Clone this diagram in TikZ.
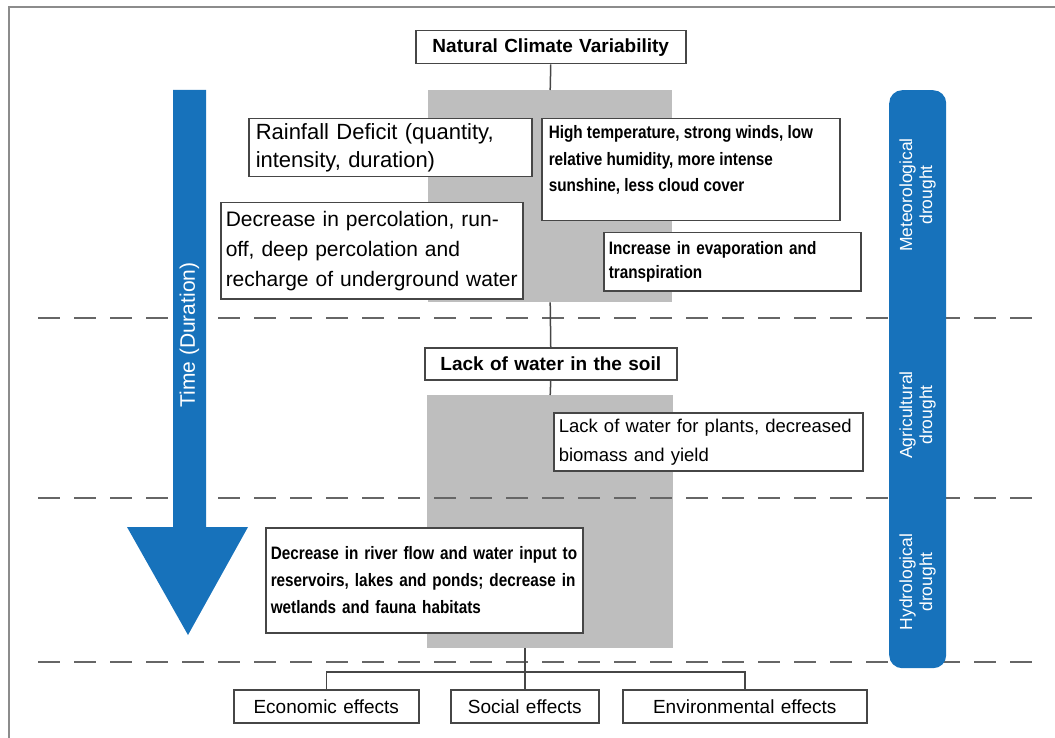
\documentclass[tikz,border=0pt]{standalone}
\usepackage{fontspec}
\setmainfont{Liberation Sans}
\newfontfamily\narrowfont[FakeStretch=0.85]{Liberation Sans}
\usepackage{tikz}
\usetikzlibrary{positioning}
\definecolor{timeblue}{RGB}{23,114,187}
\definecolor{bandgrey}{RGB}{190,190,190}
\definecolor{boxline}{RGB}{70,70,70}
\tikzset{
  txtbox/.style={ draw=boxline, fill=white, line width=1.5pt, anchor=north west, align=left, inner ysep=0pt }
}
\tikzset{
  band/.style={ fill=bandgrey, anchor=north west, inner sep=0pt }
}
\tikzset{
  sepline/.style={ draw=black!60, line width=2pt, dash pattern=on 22pt off 14pt }
}
\tikzset{
  effect/.style={ txtbox, align=center, font=\fontsize{19}{22}\selectfont, minimum height=33pt }
}
\tikzset{
  phase/.style={ rotate=90, text=white, align=center, font=\fontsize{17.5}{20}\selectfont }
}
\tikzset{
  narrowbold/.style={ font=\fontsize{18}{26.5}\narrowfont\bfseries }
}

\begin{document}
\begin{tikzpicture}[x=1pt, y=-1pt]
        \useasboundingbox (0,0) rectangle (1055,738);
        \draw[black!45, line width=2pt] (9,738) -- (9,7) -- (1055,7);
        \node[band, minimum width=244pt, minimum height=212pt] (band1) at (428,90) {};
        \node[band, minimum width=246pt, minimum height=253pt] (band2) at (427,395) {};
        \draw[sepline] (38,318) -- (1042,318);
        \draw[sepline] (38,498) -- (1042,498);
        \draw[sepline] (38,662) -- (1042,662);
        \node[txtbox, align=center, text width=260pt, inner xsep=5pt, minimum height=33pt, font=\fontsize{19}{23}\selectfont\bfseries] (ncv) at (415,30) {Natural Climate Variability};
        \node[txtbox, text width=269pt, inner xsep=7pt, minimum height=58pt, font=\fontsize{22}{28}\selectfont] (rain) at (248,118) {Rainfall Deficit (quantity,\\intensity, duration)};
        \node[txtbox, narrowbold, inner sep=7pt] (heat) at (541,118) {\parbox[t][88pt][t]{284pt}{High temperature, strong winds, low\\relative humidity, more intense\\sunshine, less cloud cover}};
        \node[txtbox, text width=292pt, inner xsep=5pt, minimum height=96pt, font=\fontsize{21}{30}\selectfont] (perc) at (220,202) {Decrease in percolation, run-\\off, deep percolation and\\recharge of underground water};
        \node[txtbox, narrowbold, text width=247pt, inner xsep=5pt, minimum height=58pt, font=\fontsize{18}{24}\narrowfont\bfseries] (evap) at (603,232) {Increase in evaporation and\\transpiration};
        \node[txtbox, align=center, text width=242pt, inner xsep=5pt, minimum height=32pt, font=\fontsize{19}{23}\selectfont\bfseries] (lack) at (424,347) {Lack of water in the soil};
        \node[txtbox, text width=299pt, inner xsep=5pt, minimum height=58pt, font=\fontsize{18.5}{29}\selectfont] (plants) at (553,412) {Lack of water for plants, decreased\\biomass and yield};
        \node[txtbox, narrowbold, text width=307pt, inner xsep=5pt, minimum height=105pt, font=\fontsize{18}{27}\narrowfont\bfseries] (river) at (265,527) {Decrease in river flow and water input to\\reservoirs, lakes and ponds; decrease in\\wetlands and fauna habitats};
        \node[effect, text width=175pt, inner xsep=5pt] (econ) at (233,689) {Economic effects};
        \node[effect, text width=138pt, inner xsep=5pt] (social) at (450,689) {Social effects};
        \node[effect, text width=234pt, inner xsep=5pt] (env) at (622,689) {Environmental effects};
        \coordinate (split) at (524,672);
        \draw[boxline, line width=1.5pt] (ncv.south) -- (band1.north);
        \draw[boxline, line width=1.5pt] (band1.south) -- (lack.north);
        \draw[boxline, line width=1.5pt] (lack.south) -- (band2.north);
        \draw[boxline, line width=1.5pt] (band2.south -| social.north) -- (social.north);
        \draw[boxline, line width=1.5pt] (econ.north) |- (split) -| (env.north);
        \node[fill=timeblue, rounded corners=13pt, anchor=north west, minimum width=57pt, minimum height=578pt, inner sep=0pt] (phases) at (889,90) {};
        \node[phase] (met) at (917.5,195) {Meteorological\\drought};
        \node[phase] (agri) at (917.5,415) {Agricultural\\drought};
        \node[phase] (hydro) at (917.5,582) {Hydrological\\drought};
        \fill[timeblue] (173,90) -- (206,90) -- (206,527) -- (248,527) -- (188,635) -- (127,527) -- (173,527) -- cycle;
        \node[rotate=90, text=white, font=\fontsize{21}{24}\selectfont] (time) at (189.5,335) {Time (Duration)};
      \end{tikzpicture}
\end{document}
